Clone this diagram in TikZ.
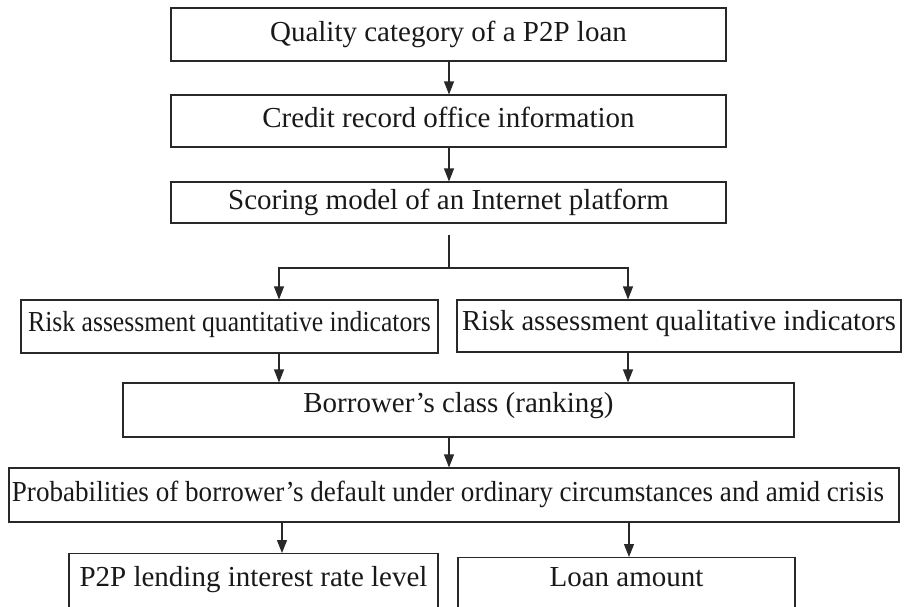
\documentclass[tikz,border=0pt]{standalone}
\usepackage{fontspec}
\setmainfont{Liberation Serif}
\usetikzlibrary{arrows.meta,positioning}

\begin{document}
\begin{tikzpicture}[x=1pt, y=-1pt,
    riquadro/.style={rectangle,
        draw=linea,
        line width=1.1pt,
        inner sep=0pt,
        text=black!90,
        text height=20pt,
        text depth=7pt,
        font=\fontsize{29}{34}\selectfont},
    freccia/.style={draw=linea, line width=1.1pt,
        -{Triangle[length=13pt, width=10pt]}}]
\definecolor{linea}{RGB}{40,40,40}

\useasboundingbox (0,0) rectangle (904,606);
\clip (0,0) rectangle (904,606);

% ======================================================
% riquadri
% ======================================================
\node[riquadro,
    minimum width = 555pt,
    minimum height = 53pt] (qual) at (448.5,34.5) {Quality category of a P2P loan};
\node[riquadro,
    minimum width = 555pt,
    minimum height = 52pt] (cred) at (448.5,121) {Credit record office information};
\node[riquadro,
    minimum width = 555pt,
    minimum height = 41pt] (score) at (448.5,202.5) {Scoring model of an Internet platform};

\node[riquadro,
    minimum width = 417pt,
    text height = 18pt,
    text depth = 9pt,
    minimum height = 53pt] (quant) at (229.5,326.5) {\scalebox{0.885}[1]{Risk assessment quantitative indicators}};
\node[riquadro,
    minimum width = 444pt,
    text height = 18pt,
    text depth = 9pt,
    minimum height = 52pt] (qualit) at (679,326) {\scalebox{0.985}[1]{Risk assessment qualitative indicators}};

\node[riquadro,
    minimum width = 671pt,
    text height = 16pt,
    text depth = 11pt,
    minimum height = 54pt] (borr) at (458.5,410) {Borrower’s class (ranking)};

\node[riquadro,
    minimum width = 890pt,
    minimum height = 54pt] (prob) at (454,495) {\scalebox{0.935}[1]{Probabilities of borrower’s default under ordinary circumstances and amid crisis}\hspace*{12pt}};

% riquadri in basso (tagliati dal bordo)
\node[riquadro,
    anchor = north,
    minimum width = 369pt,
    text height = 33pt,
    text depth = 80pt] (tasso) at (253.5,553) {P2P lending interest rate level};
\node[riquadro,
    anchor = north,
    minimum width = 337pt,
    text height = 29pt,
    text depth = 80pt] (importo) at (626.5,557) {Loan amount};

% ======================================================
% frecce
% ======================================================
\coordinate (centro) at (449,0);
\coordinate (colsx) at (279,0);
\coordinate (coldx) at (628,0);
\coordinate (basesx) at (282,0);
\coordinate (basedx) at (629,0);
\coordinate (inizio) at (449,235);
\coordinate (nodo) at (449,268);

\draw[freccia] (qual.south -| centro) -- (cred.north -| centro);
\draw[freccia] (cred.south -| centro) -- (score.north -| centro);

% diramazione
\draw[draw=linea, line width=1.1pt] (inizio) -- (nodo);
\draw[freccia] (nodo) -| (quant.north -| colsx);
\draw[freccia] (nodo) -| (qualit.north -| coldx);

\draw[freccia] (quant.south -| colsx) -- (borr.north -| colsx);
\draw[freccia] (qualit.south -| coldx) -- (borr.north -| coldx);
\draw[freccia] (borr.south -| centro) -- (prob.north -| centro);

\draw[freccia] (prob.south -| basesx) -- (tasso.north -| basesx);
\draw[freccia] (prob.south -| basedx) -- (importo.north -| basedx);

\end{tikzpicture}
\end{document}
